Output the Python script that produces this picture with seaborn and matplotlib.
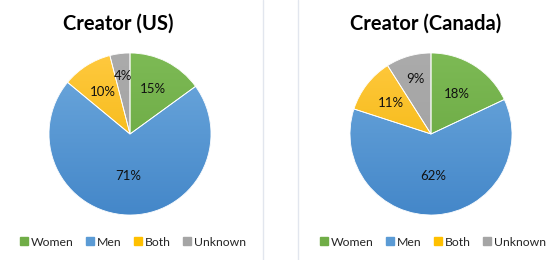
import numpy as np
import matplotlib
matplotlib.use("Agg")
import matplotlib.pyplot as plt
import matplotlib.colors as mcolors
from matplotlib.lines import Line2D
import seaborn as sns

categories = ["Women", "Men", "Both", "Unknown"]
us_values = [15, 71, 10, 4]
canada_values = [18, 62, 11, 9]
titles = ["Creator (US)", "Creator (Canada)"]

base_colors = ["#70AD47", "#5B9BD5", "#FFC000", "#A5A5A5"]
top_colors = ["#7DBA55", "#6EA9DD", "#FFC93F", "#ABABAB"]
bottom_colors = ["#64A23C", "#4487C9", "#F0B200", "#9E9E9E"]

sns.set_theme(style="white")
plt.rcParams["font.family"] = ["Lato", "DejaVu Sans"]

W, H = 560, 260
fig = plt.figure(figsize=(W / 100, H / 100), dpi=100)
fig.patch.set_facecolor("white")

def px_axes(cx, cy, r):
    return fig.add_axes([(cx - r) / W, (H - cy - r) / H, 2 * r / W, 2 * r / H])

label_dist = [[0.62, 0.52, 0.62, 0.72], [0.59, 0.52, 0.63, 0.71]]
centers = [(130, 134), (431, 134)]
title_pos = [(118, 24), (426, 24)]
legend_x = [132, 432]

for i, vals in enumerate([us_values, canada_values]):
    ax = px_axes(centers[i][0], centers[i][1], 81)
    wedges, texts, autotexts = ax.pie(
        vals, colors=base_colors, startangle=90, counterclock=False,
        autopct="%d%%", pctdistance=0.6,
        wedgeprops=dict(linewidth=0.6, edgecolor="white"),
        textprops=dict(fontsize=9.5, color="#111111"))
    grad = np.linspace(0, 1, 256).reshape(-1, 1)
    for j, w in enumerate(wedges):
        cmap = mcolors.LinearSegmentedColormap.from_list(
            "g", [top_colors[j], bottom_colors[j]])
        im = ax.imshow(grad, cmap=cmap, extent=[-1, 1, -1, 1], aspect="auto",
                       origin="upper", zorder=w.get_zorder() + 0.1)
        im.set_clip_path(w)
        ang = np.deg2rad((w.theta1 + w.theta2) / 2)
        d = label_dist[i][j]
        autotexts[j].set_position((d * np.cos(ang), d * np.sin(ang)))
        autotexts[j].set_zorder(5)
    for w in wedges:
        w2 = matplotlib.patches.Wedge(w.center, w.r, w.theta1, w.theta2,
                                      facecolor="none", edgecolor="white",
                                      linewidth=0.6, zorder=3)
        ax.add_patch(w2)
    ax.set_xlim(-1.0, 1.0)
    ax.set_ylim(-1.0, 1.0)
    ax.set_aspect("equal")
    ax.axis("off")

    fig.text(title_pos[i][0] / W, 1 - title_pos[i][1] / H, titles[i],
             ha="center", va="center", fontsize=14.5, fontweight="bold",
             color="black")

    handles = [Line2D([0], [0], marker="s", linestyle="none", markersize=6,
                      markerfacecolor=c, markeredgecolor=c) for c in base_colors]
    fig.legend(handles, categories, loc="center",
               bbox_to_anchor=(legend_x[i] / W, 1 - 242 / H), ncol=4,
               frameon=False, fontsize=8.8, handletextpad=0.1,
               columnspacing=0.9, handlelength=0.9)

for x in [263, 298]:
    fig.add_artist(Line2D([x / W, x / W], [0, 1], color="#E2E6EE", linewidth=1.0))

fig.savefig("out.png", dpi=100, facecolor="white")
